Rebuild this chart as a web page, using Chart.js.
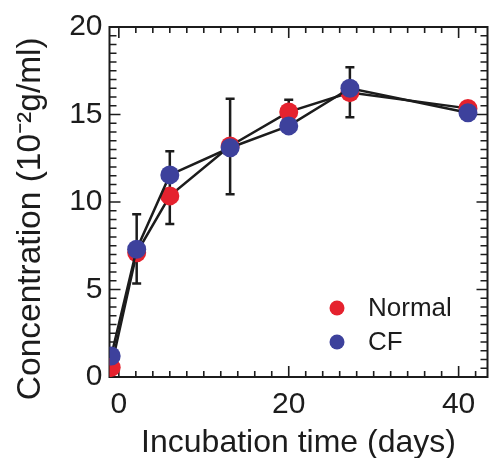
<!DOCTYPE html>
<html>
<head>
<meta charset="utf-8">
<script src="https://cdn.jsdelivr.net/npm/chart.js@4/dist/chart.umd.min.js"></script>
<style>
  html, body { margin: 0; padding: 0; background: #fff; }
  canvas { display: block; }
</style>
</head>
<body>
<canvas id="chart" width="497" height="458"></canvas>
<script>
// valores
const days = [-0.9, 2.1, 6.0, 13.1, 20.0, 27.2, 41.1];
const normal = [0.55, 7.1, 10.35, 13.2, 15.15, 16.25, 15.35];
const cf = [1.2, 7.3, 11.55, 13.1, 14.35, 16.5, 15.1];
const errLow = [null, 5.35, 8.75, 10.45, 14.5, 14.85, null];
const errHigh = [null, 9.3, 12.9, 15.9, 15.85, 17.7, null];
const xTicks = [0, 20, 40];
const yTicks = [0, 5, 10, 15, 20];
const seriesNames = ['Normal', 'CF'];
const seriesColors = ['#e5222e', '#3d419c'];

const INK = '#1c1c1c';
const FONT = '"Liberation Sans", Arial, sans-serif';

function pts(ys){ return days.map((d,i)=>({x:d, y:ys[i]})); }

// barras de error, marco con ticks interiores y leyenda propia
const decor = {
  id: 'decor',
  beforeDatasetsDraw(chart){
    const {ctx, chartArea:a, scales:{x, y}} = chart;
    ctx.save();
    ctx.strokeStyle = INK;
    ctx.lineWidth = 2;
    ctx.strokeRect(a.left, a.top, a.right - a.left, a.bottom - a.top);

    ctx.lineWidth = 1.6;
    ctx.beginPath();
    for(let v = 0; v <= 43; v += 2){
      const px = x.getPixelForValue(v);
      if(px < a.left || px > a.right) continue;
      const len = v % 20 === 0 ? 11 : 6;
      ctx.moveTo(px, a.bottom); ctx.lineTo(px, a.bottom - len);
      ctx.moveTo(px, a.top); ctx.lineTo(px, a.top + len);
    }
    for(let v = 0; v <= 20; v += 0.5){
      const py = y.getPixelForValue(v);
      const len = v % 5 === 0 ? 11 : 7;
      ctx.moveTo(a.left, py); ctx.lineTo(a.left + len, py);
      ctx.moveTo(a.right, py); ctx.lineTo(a.right - len, py);
    }
    ctx.stroke();

    // barras de error
    ctx.lineWidth = 2.5;
    ctx.beginPath();
    days.forEach((d,i)=>{
      if(errLow[i] == null) return;
      const px = x.getPixelForValue(d);
      const lo = y.getPixelForValue(errLow[i]);
      const hi = y.getPixelForValue(errHigh[i]);
      ctx.moveTo(px, lo); ctx.lineTo(px, hi);
      ctx.moveTo(px - 4.5, lo); ctx.lineTo(px + 4.5, lo);
      ctx.moveTo(px - 4.5, hi); ctx.lineTo(px + 4.5, hi);
    });
    ctx.stroke();
    ctx.restore();
  },
  afterDraw(chart){
    const {ctx} = chart;
    ctx.save();
    ctx.font = '26px ' + FONT;
    ctx.textBaseline = 'middle';
    ctx.textAlign = 'left';
    const rows = [308, 342];
    chart.data.datasets.forEach((ds, i)=>{
      const k = seriesNames.indexOf(ds.label);
      ctx.fillStyle = ds.pointBackgroundColor;
      ctx.beginPath();
      ctx.arc(337, rows[k], 7.5, 0, Math.PI*2);
      ctx.fill();
      ctx.fillStyle = INK;
      ctx.fillText(ds.label, 368, rows[k] + 1);
    });
    ctx.restore();
  }
};

new Chart(document.getElementById('chart').getContext('2d'), {
  type: 'line',
  data: {
    datasets: [
      { label: seriesNames[0], data: pts(normal), order: 1,
        borderColor: INK, borderWidth: 2.5, tension: 0,
        pointBackgroundColor: seriesColors[0], pointBorderWidth: 0, pointRadius: 9.5 },
      { label: seriesNames[1], data: pts(cf), order: 0,
        borderColor: INK, borderWidth: 2.5, tension: 0,
        pointBackgroundColor: seriesColors[1], pointBorderWidth: 0, pointRadius: 9.5 }
    ]
  },
  options: {
    responsive: false,
    animation: false,
    events: [],
    layout: { padding: { top: 27, right: 5, left: 0, bottom: 0 } },
    plugins: { legend: { display: false }, tooltip: { enabled: false } },
    scales: {
      x: {
        type: 'linear', min: -1.1, max: 43.4,
        afterBuildTicks: s => { s.ticks = xTicks.map(v => ({value: v})); },
        afterFit: s => { s.height = 81; },
        grid: { display: false, drawTicks: false },
        border: { display: false },
        ticks: { color: INK, padding: 10, font: { family: FONT, size: 30 } },
        title: { display: true, text: 'Incubation time (days)', color: INK,
                 font: { family: FONT, size: 32, lineHeight: 0.94 }, padding: 0 }
      },
      y: {
        type: 'linear', min: 0, max: 20,
        afterBuildTicks: s => { s.ticks = yTicks.map(v => ({value: v})); },
        afterFit: s => { s.width = 109.5; },
        grid: { display: false, drawTicks: false },
        border: { display: false },
        ticks: { color: INK, padding: 7, font: { family: FONT, size: 30 } },
        title: { display: true, text: 'Concentration (10\u207B\u00B2g/ml)\u2002\u2002', color: INK,
                 font: { family: FONT, size: 33.5 }, padding: { top: 11, bottom: 0 } }
      }
    }
  },
  plugins: [decor]
});
</script>
</body>
</html>
